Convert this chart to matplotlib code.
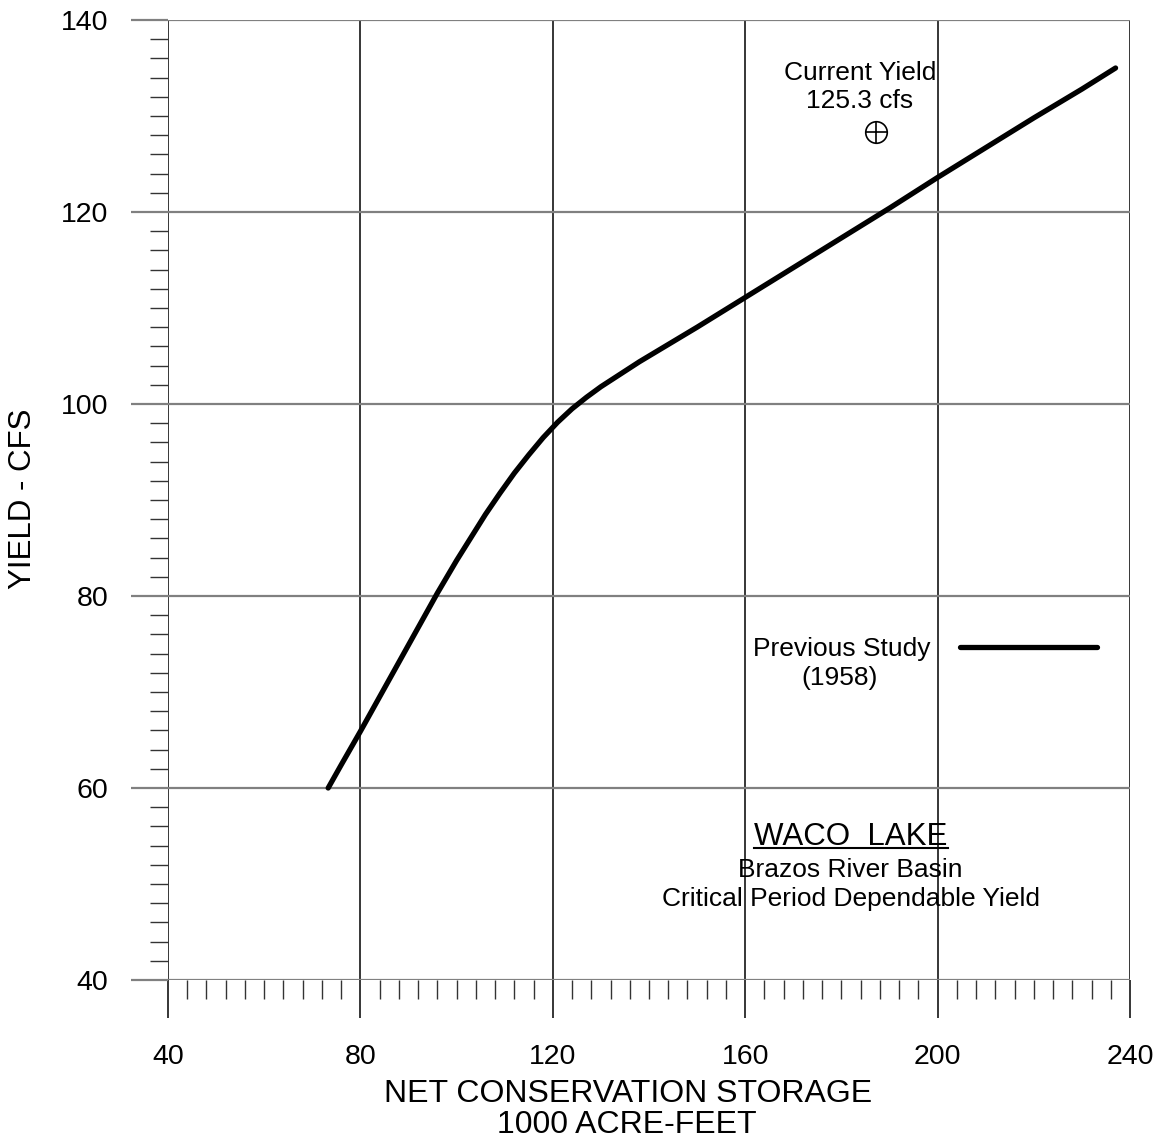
import matplotlib
matplotlib.use("Agg")
import matplotlib.pyplot as plt
from matplotlib.ticker import MultipleLocator
from matplotlib.lines import Line2D

plt.rcParams['font.family'] = ['Liberation Sans', 'DejaVu Sans']

# ---- data ----
storage = [73.3, 76, 80, 84, 88, 92, 96, 100, 103, 106, 109, 112, 115, 118,
           121, 124, 127, 130, 134, 138, 144, 150, 160, 170, 180, 190, 200,
           210, 220, 230, 237]
yield_cfs = [60.0, 62.4, 65.9, 69.5, 73.1, 76.7, 80.3, 83.7, 86.1, 88.5,
             90.7, 92.8, 94.7, 96.5, 98.1, 99.5, 100.7, 101.8, 103.1, 104.4,
             106.2, 108.0, 111.1, 114.2, 117.3, 120.4, 123.6, 126.7, 129.8,
             132.8, 135.0]
current_storage = [187.2]
current_yield = [128.3]
x_ticks = [40, 80, 120, 160, 200, 240]
y_ticks = [40, 60, 80, 100, 120, 140]

W, H = 1161, 1143


def fx(px):
    return px / W


def fy(py):
    return 1 - py / H


fig = plt.figure(figsize=(W / 100, H / 100), dpi=100)
ax = fig.add_axes([fx(168), fy(980), (1130 - 168) / W, (980 - 20) / H])
ax.set_xlim(40, 240)
ax.set_ylim(40, 140)
for s in ax.spines.values():
    s.set_visible(False)

ax.set_xticks(x_ticks)
ax.set_yticks(y_ticks)
ax.xaxis.set_minor_locator(MultipleLocator(4))
ax.yaxis.set_minor_locator(MultipleLocator(2))

ax.grid(True, which='major', axis='x', color='black', lw=1.1)
ax.grid(True, which='major', axis='y', color='#808080', lw=1.6)

ax.tick_params(axis='x', which='major', direction='out', length=38 * 0.72,
               width=1.1, color='black', pad=19, labelsize=20.5)
ax.tick_params(axis='x', which='minor', direction='out', length=19 * 0.72,
               width=1.0, color='#333333')
ax.tick_params(axis='y', which='major', direction='out', length=37 * 0.72,
               width=1.6, color='#808080', pad=16.5, labelsize=20.5)
ax.tick_params(axis='y', which='minor', direction='out', length=18 * 0.72,
               width=1.0, color='#333333')

line, = ax.plot(storage, yield_cfs, color='black', lw=3.8,
                solid_capstyle='round', solid_joinstyle='round', zorder=3,
                label='Previous Study')

ax.plot(current_storage, current_yield, linestyle='none', marker='o',
        markersize=15.5, mfc='none', mec='black', mew=1.2, zorder=4)
ax.plot(current_storage, current_yield, linestyle='none', marker='+',
        markersize=15.5, mec='black', mew=1.2, zorder=4)

# annotations
fig.text(fx(860), fy(79.5), 'Current Yield', ha='center', va='baseline', fontsize=19)
fig.text(fx(860), fy(108), '125.3 cfs', ha='center', va='baseline', fontsize=19)

leg = ax.legend(handles=[line], loc='center right',
                bbox_to_anchor=((1097 - 168) / 962, (980 - 649) / 960),
                frameon=False, markerfirst=False, fontsize=19,
                handlelength=5.2, handletextpad=1.1, borderpad=0,
                borderaxespad=0)

t_waco = fig.text(fx(851), fy(845), 'WACO  LAKE', ha='center', va='baseline', fontsize=22.5)
fig.text(fx(850), fy(877), 'Brazos River Basin', ha='center', va='baseline', fontsize=19)
fig.text(fx(851), fy(906), 'Critical Period Dependable Yield', ha='center',
         va='baseline', fontsize=19)

fig.text(fx(628), fy(1102), 'NET CONSERVATION STORAGE', ha='center', va='baseline', fontsize=23)
fig.text(fx(627), fy(1133), '1000 ACRE-FEET', ha='center', va='baseline', fontsize=23)
fig.text(fx(23), fy(499), 'YIELD - CFS', ha='center', va='center', rotation=90, fontsize=22.5)

fig.canvas.draw()
r = fig.canvas.get_renderer()
# second legend line centred under the legend text
lt = leg.get_texts()[0].get_window_extent(r)
cx = (lt.x0 + lt.x1) / 2 - 2
fig.text(cx / W, fy(685), '(1958)', ha='center', va='baseline', fontsize=19)
# underline for title
bb = t_waco.get_window_extent(r)
uy = fy(848)
fig.add_artist(Line2D([bb.x0 / W, bb.x1 / W], [uy, uy], color='black', lw=1.5))

fig.savefig('out.png', dpi=100)
